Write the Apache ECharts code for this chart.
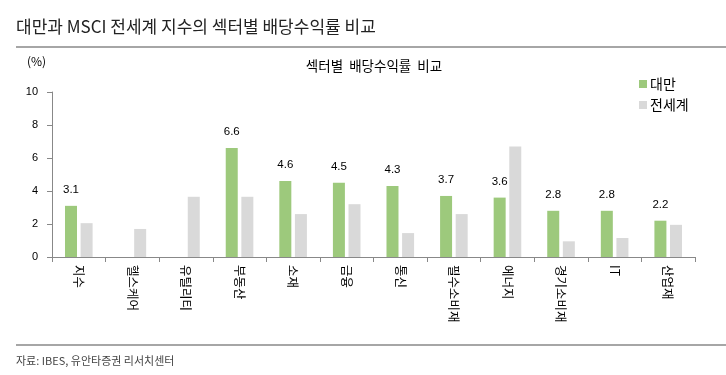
<!DOCTYPE html>
<html><head><meta charset="utf-8">
<script src="https://cdn.jsdelivr.net/npm/echarts@6/dist/echarts.min.js"></script>
<style>html,body{margin:0;padding:0;background:#fff}#c{width:726px;height:375px}</style>
</head><body><div id="c"></div>
<script>
const categories = ['지수','헬스케어','유틸리티','부동산','소재','금융','통신','필수소비재','에너지','경기소비재','IT','산업재'];
const taiwan = [3.1, null, null, 6.6, 4.6, 4.5, 4.3, 3.7, 3.6, 2.8, 2.8, 2.2];
const world = [2.05, 1.7, 3.65, 3.65, 2.6, 3.2, 1.45, 2.6, 6.7, 0.95, 1.15, 1.95];
const yTicks = [0, 2, 4, 6, 8, 10];
const font = '"Noto Sans CJK KR", "Noto Sans", sans-serif';
const chart = echarts.init(document.getElementById('c'));
chart.setOption({
  animation: false,
  textStyle: {fontFamily: font},
  grid: {left: 52, right: 31, top: 92, bottom: 118, containLabel: false},
  legend: {
    orient: 'vertical', left: 634, top: 72, itemWidth: 8, itemHeight: 8, itemGap: 7,
    icon: 'rect', textStyle: {fontSize: 14, color: '#000', fontFamily: font, padding: [0,0,0,-2]},
    data: ['대만','전세계']
  },
  xAxis: {
    type: 'category', data: categories,
    axisLine: {lineStyle: {color: '#888', width: 1}},
    axisTick: {show: true, alignWithLabel: false, length: 5, lineStyle: {color: '#888'}},
    axisLabel: {rotate: -90, fontSize: 12.5, color: '#000', margin: 8, fontFamily: font}
  },
  yAxis: {
    type: 'value', min: yTicks[0], max: yTicks[yTicks.length-1], interval: 2,
    splitLine: {show: false},
    axisLine: {show: true, lineStyle: {color: '#888'}},
    axisTick: {show: true, length: 5, lineStyle: {color: '#888'}},
    axisLabel: {fontSize: 11, color: '#000', margin: 14, fontFamily: 'Arial, "Liberation Sans", sans-serif'}
  },
  series: [
    {name: '대만', type: 'bar', data: taiwan, barWidth: 12, barGap: '30%',
     itemStyle: {color: '#9DC97C'},
     label: {show: true, position: 'top', distance: 10, fontSize: 11.5, color: '#000', fontFamily: 'Arial, "Liberation Sans", sans-serif'}},
    {name: '전세계', type: 'bar', data: world, barWidth: 12,
     itemStyle: {color: '#D9D9D9'}}
  ],
  graphic: [
    {type: 'text', left: 16, top: 18, style: {text: '대만과 MSCI 전세계 지수의 섹터별 배당수익률 비교', fontSize: 17, fontWeight: 'normal', fill: '#222', fontFamily: font}},
    {type: 'rect', shape: {x: 16, y: 46, width: 710, height: 2}, style: {fill: '#A6A6A6'}},
    {type: 'text', left: 27, top: 55, style: {text: '(%)', fontSize: 12, fill: '#000', fontFamily: font}},
    {type: 'text', x: 374, y: 59, style: {text: '섹터별  배당수익률  비교', fontSize: 13.5, fill: '#000', fontFamily: font, textAlign: 'center'}},
    {type: 'rect', shape: {x: 16, y: 344, width: 710, height: 2}, style: {fill: '#A6A6A6'}},
    {type: 'text', left: 16, top: 355, style: {text: '자료: IBES, 유안타증권 리서치센터', fontSize: 11, fill: '#444', fontFamily: font}}
  ]
});
</script></body></html>
